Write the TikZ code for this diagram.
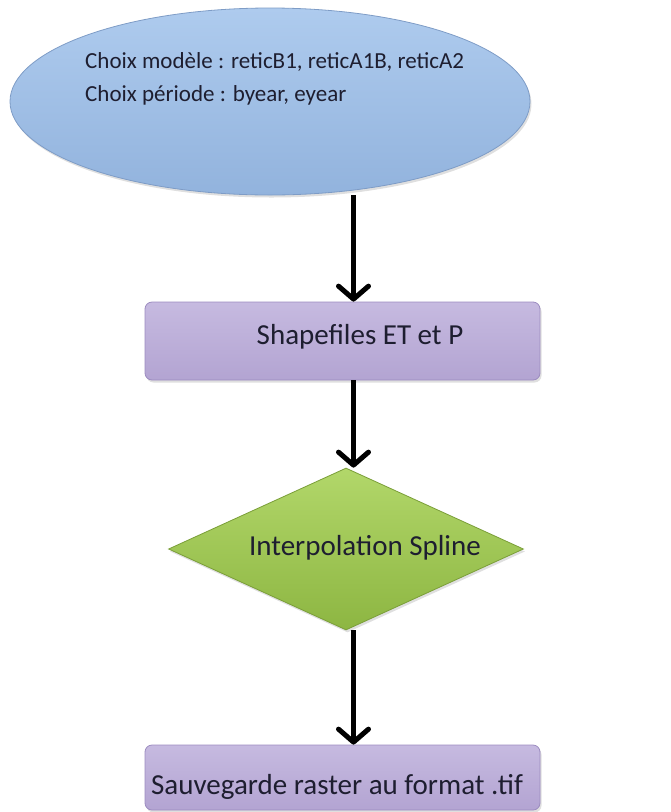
\documentclass[tikz,border=0pt]{standalone}
\usepackage{fontspec}
\setmainfont{Carlito}
\usetikzlibrary{shapes.geometric,arrows.meta,shadows}
\definecolor{elltop}{HTML}{AECBEE}
\definecolor{ellbot}{HTML}{92B3DD}
\definecolor{elledge}{HTML}{7E9CC6}
\definecolor{boxtop}{HTML}{C6BAE0}
\definecolor{boxbot}{HTML}{B3A4D2}
\definecolor{boxedge}{HTML}{9C8CC0}
\definecolor{diatop}{HTML}{B2D76A}
\definecolor{diabot}{HTML}{8DB642}
\definecolor{diaedge}{HTML}{7A9E38}
\definecolor{txt}{HTML}{1E1E30}
\begin{document}
\begin{tikzpicture}[x=1pt,y=-1pt,
  softshadow/.style={drop shadow={opacity=0.25,shadow xshift=1.5pt,shadow yshift=-2.5pt}},
  flowbox/.style={rectangle,rounded corners=7pt,top color=boxtop,bottom color=boxbot,
    draw=boxedge,line width=0.8pt,minimum width=395pt,minimum height=78pt,inner sep=0pt,
    softshadow},
  startell/.style={ellipse,top color=elltop,bottom color=ellbot,draw=elledge,line width=0.8pt,
    minimum width=520pt,minimum height=187pt,inner sep=0pt,softshadow},
  decide/.style={diamond,top color=diatop,bottom color=diabot,draw=diaedge,line width=0.8pt,
    minimum width=355pt,minimum height=162pt,inner sep=0pt,softshadow},
  lbl/.style={text=txt,font=\fontsize{29}{33}\selectfont,inner sep=0pt},
  smalllbl/.style={text=txt,font=\fontsize{23}{33}\selectfont,inner sep=0pt},
  flowarrow/.style={line width=5pt,black,-{Straight Barb[length=13pt,width=30pt,round]}}]
\useasboundingbox (0,0) rectangle (670,812);
\node[startell] (ell) at (270,101.5) {};
\node[smalllbl,align=left,anchor=west] (ellt) at (85,78.5) {Choix modèle : reticB1, reticA1B, reticA2\\Choix période : byear, eyear};
\node[flowbox] (box1) at (342.5,341) {};
\node[lbl] (box1t) at (360,337) {Shapefiles ET et P};
\node[decide] (dia) at (346,549) {};
\node[lbl] (diat) at (365,548) {Interpolation Spline};
\node[flowbox,minimum height=65pt] (box2) at (342.5,777.5) {};
\node[lbl] (box2t) at (337,787) {Sauvegarde raster au format .tif};
\draw[flowarrow] ([xshift=11pt]box1.north |- ell.south) -- ([xshift=11pt]box1.north);
\draw[flowarrow] ([xshift=11pt]box1.south) -- ([xshift=11pt]box1.south |- dia.north);
\draw[flowarrow] ([xshift=11pt]box2.north |- dia.south) -- ([xshift=11pt]box2.north);
\end{tikzpicture}
\end{document}
